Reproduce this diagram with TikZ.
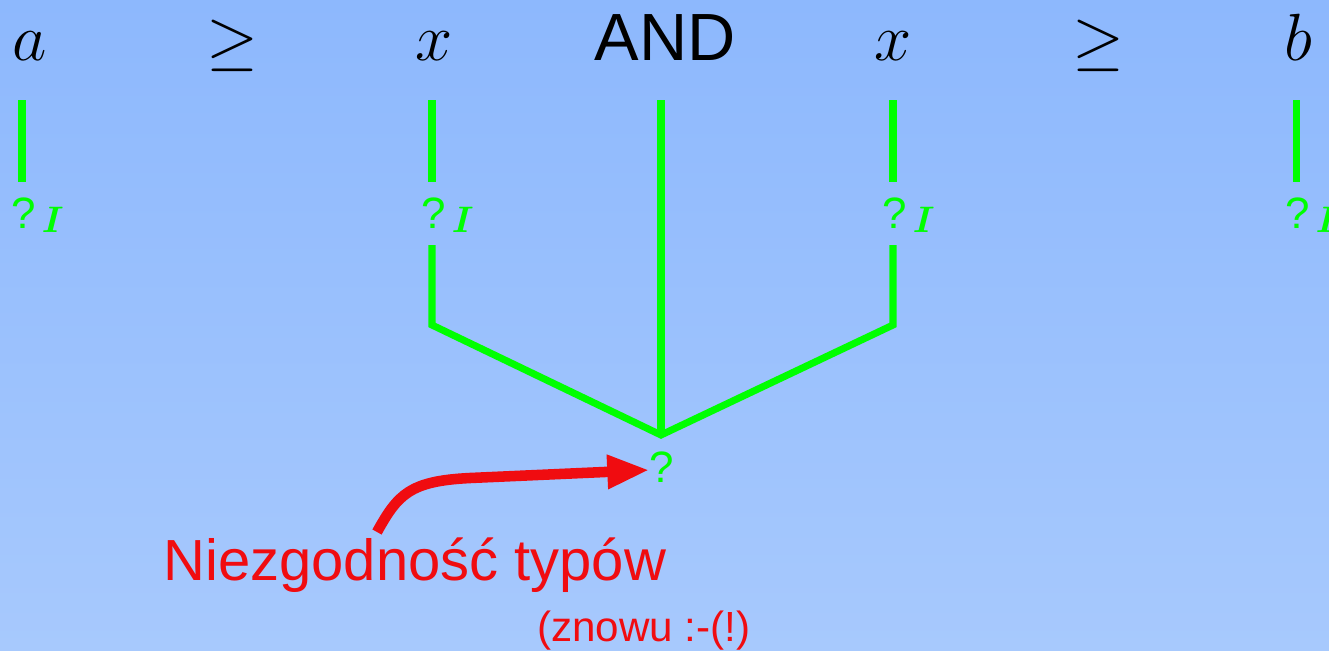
\RequirePackage{fix-cm}
\documentclass[tikz,border=0pt]{standalone}
\usepackage{amsmath}
\usepackage{fontspec}
\setsansfont{Liberation Sans}
\usetikzlibrary{arrows.meta}

\definecolor{bgtop}{RGB}{141,184,253}
\definecolor{bgbot}{RGB}{167,201,253}
\definecolor{typegreen}{RGB}{0,255,0}
\definecolor{errred}{RGB}{240,12,16}

\tikzset{
  mathtxt/.style={anchor=base, inner sep=0pt, font=\fontsize{38}{40}\selectfont},
  andtxt/.style={anchor=base, inner sep=0pt, font=\sffamily\fontsize{38}{40}\selectfont},
  qtype/.style={anchor=base west, inner sep=0pt, text=typegreen, font=\sffamily\fontsize{25}{27}\selectfont},
  qplain/.style={anchor=base, inner sep=0pt, text=typegreen, font=\sffamily\fontsize{25}{27}\selectfont},
  gline/.style={draw=typegreen, line width=4pt},
  errtxt/.style={anchor=base west, inner sep=0pt, text=errred, font=\sffamily\fontsize{33}{35}\selectfont},
  notetxt/.style={anchor=base west, inner sep=0pt, text=errred, font=\sffamily\fontsize{24}{26}\selectfont},
  errarrow/.style={draw=errred, line width=6pt, -{Triangle[length=24pt,width=18pt]}}
}

\newcommand{\qI}{?\hspace{3.5pt}\raisebox{-2.6pt}{\fontsize{21}{23}\selectfont\boldmath$I$}}

\begin{document}
\begin{tikzpicture}[x=0.02cm, y=-0.02cm]
  % background
  \shade[top color=bgtop, bottom color=bgbot] (0,0) rectangle (1329,650);
  \useasboundingbox (0,0) rectangle (1329,650);

  % top row of the formula
  \node[mathtxt] (a)   at (30,60)   {$a$};
  \node[mathtxt] (ge1) at (232,62)  {$\geq$};
  \node[mathtxt] (x1)  at (434,60)  {$x$};
  \node[andtxt]  (and) at (665,60)  {AND};
  \node[mathtxt] (x2)  at (893,60)  {$x$};
  \node[mathtxt] (ge2) at (1098,62) {$\geq$};
  \node[mathtxt] (b)   at (1298,60) {$b$};

  % inferred types
  \node[qtype] (ta)  at (11,228)   {\qI};
  \node[qtype] (tx1) at (421,228)  {\qI};
  \node[qtype] (tx2) at (882,228)  {\qI};
  \node[qtype] (tb)  at (1285,228) {\qI};
  \node[qplain] (tand) at (662,482) {?};

  % connector end points
  \coordinate (a1)  at (22,100);   \coordinate (a2)  at (22,182);
  \coordinate (b1)  at (1296,100); \coordinate (b2)  at (1296,182);
  \coordinate (x1a) at (432,100);  \coordinate (x1b) at (432,182);
  \coordinate (x1c) at (432,245);  \coordinate (x1d) at (432,325);
  \coordinate (x2a) at (893,100);  \coordinate (x2b) at (893,182);
  \coordinate (x2c) at (893,245);  \coordinate (x2d) at (893,325);
  \coordinate (n1)  at (661,100);  \coordinate (n2)  at (661,435);

  % tree edges
  \draw[gline] (a1) -- (a2);
  \draw[gline] (b1) -- (b2);
  \draw[gline] (x1a) -- (x1b);
  \draw[gline] (x2a) -- (x2b);
  \draw[gline] (n1) -- (n2);
  \draw[gline] (x1c) -- (x1d) -- (n2) -- (x2d) -- (x2c);

  % error message
  \node[errtxt]  (err)  at (163,580) {Niezgodność typów};
  \node[notetxt] (note) at (537,641) {(znowu :-(!)};
  \coordinate (arrstart) at (377,532);
  \draw[errarrow] (arrstart) .. controls (398,494) and (410,481) .. (470,478)
    -- (tand.west |- 0,470);
\end{tikzpicture}
\end{document}
